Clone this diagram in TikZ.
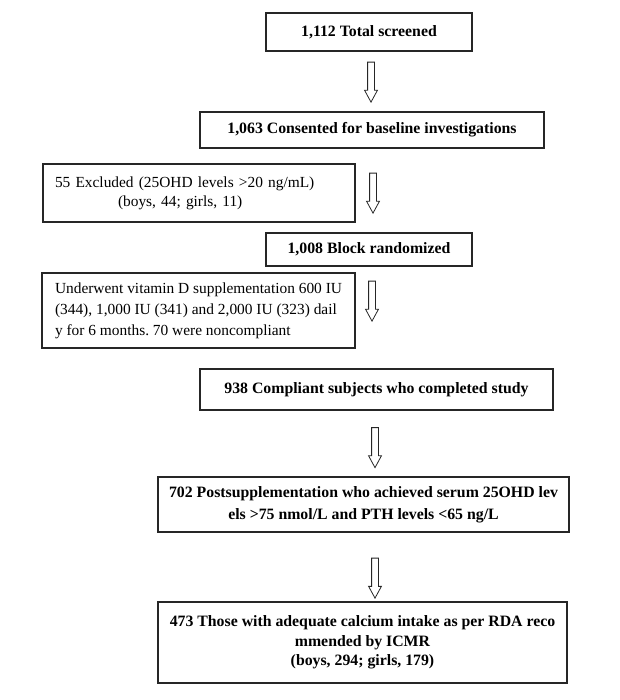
\documentclass[tikz,border=0pt]{standalone}
\usepackage{fontspec}
\setmainfont{Liberation Serif}
\usetikzlibrary{shapes.arrows}
\frenchspacing

\begin{document}
\begin{tikzpicture}[x=1pt,y=-1pt]

% page size, one unit = one pixel of the figure
\fill[white] (0,0) rectangle (619,700);
\useasboundingbox (0,0) rectangle (619,700);
% size of the text
\def\fs{15.4}
\def\fb{15.8}
% node style definition
\tikzstyle{block} = [
	draw=black!85, line width=1.2pt, rectangle, align=center,
	font=\fontsize{\fb}{21}\selectfont\bfseries ];
\tikzstyle{side} = [
	draw=black!85, line width=1.2pt, rectangle, align=left,
	font=\fontsize{\fs}{21}\selectfont ];
\tikzstyle{down} = [
	draw=black!85, line width=0.8pt, fill=white, single arrow,
	shape border rotate=270, inner sep=3pt, single arrow head extend=3pt,
	single arrow tip angle=57, minimum height=40pt, minimum width=12pt ];

\node[block,minimum width=206,minimum height=38] (total) at (369,32) {1,112 Total screened};
\node[down] (d1) at (371,79) {};

\node[block,minimum width=344,minimum height=36] (consent) at (372,130) {1,063 Consented for baseline investigations};

\node[side,text width=288,inner xsep=12,minimum height=58,font=\fontsize{\fs}{19}\selectfont] (excl) at (199,193)
	{55 Excluded (25OHD levels >20 ng/mL)\\ \hspace*{63pt}(boys, 44; girls, 11)};
\node[down] (d2) at (373,190) {};

\node[block,minimum width=206,minimum height=33] (random) at (369,249.5) {1,008 Block randomized};

\node[side,minimum width=313,minimum height=75] (suppl) at (198.5,310.5)
	{Underwent vitamin D supplementation 600 IU\\(344), 1,000 IU (341) and 2,000 IU (323) dail\\y for 6 months. 70 were noncompliant};
\node[down] (d3) at (372,298) {};

\node[block,minimum width=353,minimum height=41] (compl) at (376.5,389.5) {938 Compliant subjects who completed study};
\node[down] (d4) at (375,444.5) {};

\node[block,minimum width=411,minimum height=55,font=\fontsize{\fb}{22}\selectfont\bfseries] (post) at (363.5,504.5)
	{702 Postsupplementation who achieved serum 25OHD lev\\els >75 nmol/L and PTH levels <65 ng/L};
\node[down] (d5) at (375,575) {};

\node[block,minimum width=409,minimum height=81,font=\fontsize{\fb}{19.5}\selectfont\bfseries] (calc) at (362.5,642.5)
	{473 Those with adequate calcium intake as per RDA reco\\mmended by ICMR\\(boys, 294; girls, 179)};

\end{tikzpicture}
\end{document}
